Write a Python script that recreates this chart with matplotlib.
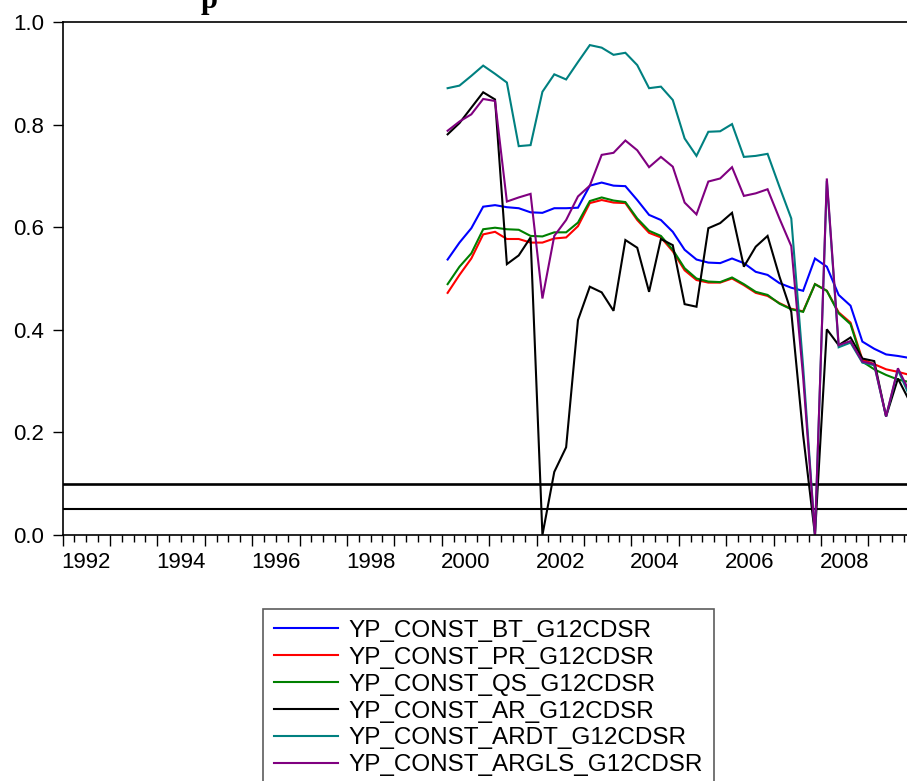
import numpy as np
import matplotlib
matplotlib.use("Agg")
import matplotlib.pyplot as plt
from matplotlib.ticker import MultipleLocator

# ---- data (quarterly, 2000Q1 .. 2009Q4) ----
start_year = 2000
names = ["YP_CONST_BT_G12CDSR", "YP_CONST_PR_G12CDSR", "YP_CONST_QS_G12CDSR",
         "YP_CONST_AR_G12CDSR", "YP_CONST_ARDT_G12CDSR", "YP_CONST_ARGLS_G12CDSR"]

bt = [0.537, 0.570, 0.598, 0.640, 0.643, 0.639, 0.637, 0.629, 0.628, 0.637,
      0.637, 0.638, 0.681, 0.687, 0.681, 0.680, 0.653, 0.624, 0.614, 0.591,
      0.556, 0.537, 0.531, 0.530, 0.539, 0.530, 0.513, 0.507, 0.491, 0.482,
      0.476, 0.539, 0.523, 0.468, 0.447, 0.377, 0.363, 0.352, 0.349, 0.345]
pr = [0.472, 0.507, 0.539, 0.586, 0.591, 0.577, 0.577, 0.570, 0.570, 0.578,
      0.580, 0.602, 0.647, 0.653, 0.648, 0.647, 0.614, 0.589, 0.580, 0.553,
      0.516, 0.497, 0.492, 0.492, 0.500, 0.487, 0.472, 0.466, 0.452, 0.441,
      0.436, 0.489, 0.476, 0.434, 0.414, 0.342, 0.333, 0.323, 0.318, 0.312]
qs = [0.489, 0.523, 0.549, 0.596, 0.599, 0.596, 0.595, 0.583, 0.582, 0.590,
      0.590, 0.609, 0.651, 0.658, 0.652, 0.649, 0.617, 0.593, 0.583, 0.556,
      0.520, 0.500, 0.494, 0.493, 0.502, 0.489, 0.474, 0.468, 0.451, 0.440,
      0.435, 0.489, 0.476, 0.432, 0.411, 0.338, 0.323, 0.312, 0.303, 0.298]
ar = [0.781, 0.803, 0.833, 0.863, 0.849, 0.528, 0.545, 0.580, 0.000, 0.123,
      0.171, 0.419, 0.484, 0.473, 0.437, 0.575, 0.560, 0.474, 0.577, 0.565,
      0.450, 0.445, 0.598, 0.608, 0.628, 0.523, 0.562, 0.583, 0.504, 0.435,
      0.195, 0.000, 0.401, 0.370, 0.385, 0.344, 0.339, 0.231, 0.305, 0.260]
ardt = [0.871, 0.876, 0.895, 0.915, 0.899, 0.882, 0.758, 0.760, 0.864, 0.898,
        0.888, 0.922, 0.955, 0.950, 0.936, 0.940, 0.916, 0.871, 0.874, 0.848,
        0.773, 0.739, 0.786, 0.787, 0.801, 0.737, 0.739, 0.743, 0.679, 0.617,
        0.328, 0.000, 0.690, 0.366, 0.375, 0.336, 0.331, 0.231, 0.322, 0.270]
argls = [0.788, 0.806, 0.820, 0.850, 0.846, 0.650, 0.658, 0.665, 0.461, 0.583,
         0.614, 0.660, 0.681, 0.741, 0.745, 0.769, 0.750, 0.717, 0.737, 0.718,
         0.648, 0.625, 0.689, 0.695, 0.717, 0.661, 0.666, 0.674, 0.617, 0.563,
         0.308, 0.000, 0.695, 0.370, 0.378, 0.338, 0.333, 0.231, 0.325, 0.278]
ref_levels = [0.10, 0.05]
year_labels = [1992, 1994, 1996, 1998, 2000, 2002, 2004, 2006, 2008]
yticks = [0.0, 0.2, 0.4, 0.6, 0.8, 1.0]

series = [bt, pr, qs, ar, ardt, argls]
colors = ["#0000FF", "#FF0000", "#008000", "#000000", "#008080", "#800080"]

# quarter mid-points in fractional years
n = len(bt)
x = start_year + (np.arange(n) + 0.5) / 4.0

plt.rcParams['font.family'] = ['Liberation Sans', 'DejaVu Sans']

W, H = 907, 781
fig = plt.figure(figsize=(W / 100, H / 100), dpi=100)
px_left, px_year, px_top, px_bottom = 62.5, 47.4, 22.0, 535.0
ax = fig.add_axes([px_left / W, (H - px_bottom) / H,
                   18 * px_year / W, (px_bottom - px_top) / H])

for s, c, lab in zip(series, colors, names):
    ax.plot(x, s, color=c, lw=1.5, label=lab, solid_joinstyle='miter')

ax.axhline(ref_levels[0], color='black', lw=1.9, zorder=1)
ax.axhline(ref_levels[1], color='black', lw=1.5, zorder=1)

ax.set_xlim(1992, 2010)
ax.set_ylim(0.0, 1.0)

# x ticks: major at each year start, minor each quarter
ax.xaxis.set_major_locator(MultipleLocator(1))
ax.xaxis.set_minor_locator(MultipleLocator(0.25))
ax.tick_params(axis='x', which='major', direction='out', length=8, width=1.0,
               labelbottom=False)
ax.tick_params(axis='x', which='minor', direction='out', length=5, width=1.0)

# year labels centred on the year
sec = ax.secondary_xaxis('bottom')
sec.set_xticks([y + 0.5 for y in year_labels], [str(y) for y in year_labels])
sec.tick_params(length=0, pad=12, labelsize=16)
sec.spines['bottom'].set_visible(False)

ax.set_yticks(yticks, [f"{v:.1f}" for v in yticks])
ax.tick_params(axis='y', direction='out', length=7, width=1.0, pad=6,
               labelsize=16)

for sp in ['left', 'top', 'bottom']:
    ax.spines[sp].set_linewidth(1.2)
ax.spines['right'].set_visible(False)

# clipped title fragment
fig.text(209 / W, 1 - 8 / H, "p", ha='center', va='baseline', fontsize=22,
         fontweight='bold', family=['Liberation Serif', 'DejaVu Serif'])

leg = fig.legend(loc='upper left', bbox_to_anchor=(263 / W, 1 - 609 / H),
                 frameon=True, fancybox=False, fontsize=17.5, handlelength=2.65,
                 handletextpad=0.42, labelspacing=0.2, borderpad=0.45,
                 borderaxespad=0.0)
leg.get_frame().set_edgecolor('#333333')
leg.get_frame().set_linewidth(1.2)
for h in leg.get_lines():
    h.set_linewidth(1.5)

fig.savefig("out.png", dpi=100)
